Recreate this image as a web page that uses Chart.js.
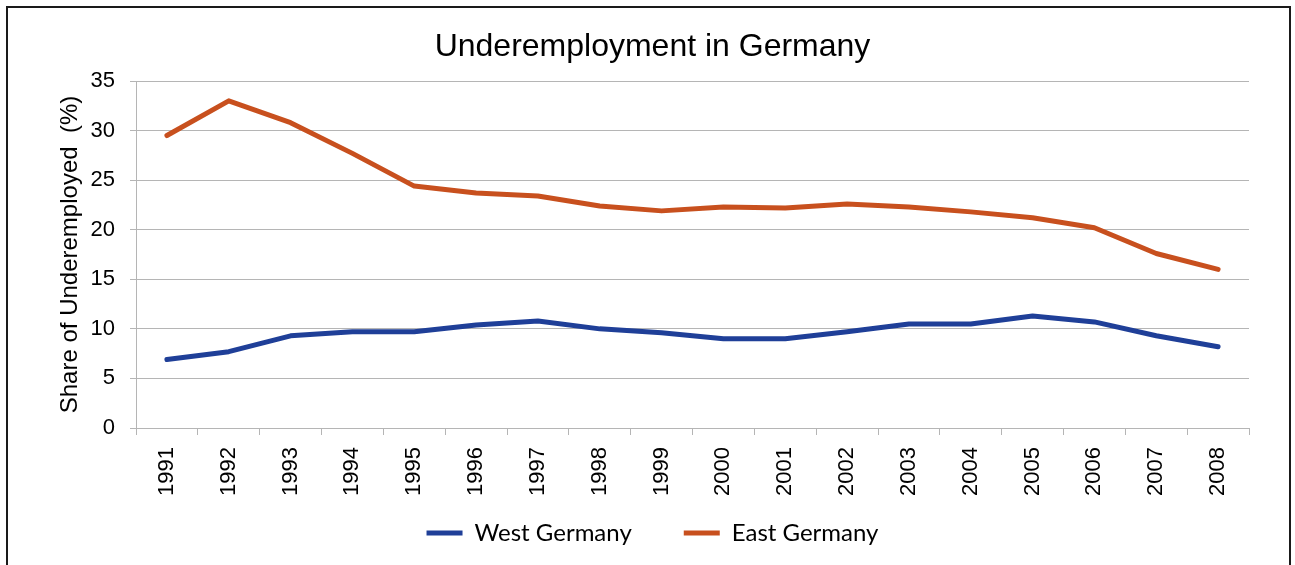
<!DOCTYPE html>
<html>
<head>
<meta charset="utf-8">
<script src="https://cdn.jsdelivr.net/npm/chart.js@4.4.1/dist/chart.umd.min.js"></script>
<style>
  html, body { margin: 0; padding: 0; background: #ffffff; }
  #wrap { position: relative; width: 1295px; height: 565px; overflow: hidden; }
  #frame { position: absolute; left: 6px; top: 6px; width: 1281px; height: 620px; border: 2px solid #1a1a1a; box-sizing: content-box; }
  #c { position: absolute; left: 0; top: 0; }
</style>
</head>
<body>
<div id="wrap">
  <div id="frame"></div>
  <canvas id="c" width="1295" height="565"></canvas>
</div>
<script>
const years = ["1991","1992","1993","1994","1995","1996","1997","1998","1999","2000","2001","2002","2003","2004","2005","2006","2007","2008"];
const westGermany = [6.9, 7.7, 9.3, 9.7, 9.7, 10.4, 10.8, 10.0, 9.6, 9.0, 9.0, 9.7, 10.5, 10.5, 11.3, 10.7, 9.3, 8.2];
const eastGermany = [29.5, 33.0, 30.8, 27.7, 24.4, 23.7, 23.4, 22.4, 21.9, 22.3, 22.2, 22.6, 22.3, 21.8, 21.2, 20.2, 17.6, 16.0];
const yTicks = { min: 0, max: 35, step: 5 };

const BLUE = '#1F3F98';
const ORANGE = '#C8501E';
const GRID = '#b5b5b5';

new Chart(document.getElementById('c'), {
  type: 'line',
  data: {
    labels: years,
    datasets: [
      { label: 'West Germany', data: westGermany, borderColor: BLUE, backgroundColor: BLUE,
        borderWidth: 5, pointRadius: 0, tension: 0, borderCapStyle: 'round', borderJoinStyle: 'round' },
      { label: 'East Germany', data: eastGermany, borderColor: ORANGE, backgroundColor: ORANGE,
        borderWidth: 5, pointRadius: 0, tension: 0, borderCapStyle: 'round', borderJoinStyle: 'round' }
    ]
  },
  options: {
    responsive: false,
    animation: false,
    devicePixelRatio: 1,
    layout: { padding: { left: 56, right: 46, top: 0, bottom: 10 } },
    plugins: {
      title: {
        display: true,
        text: 'Underemployment in Germany',
        color: '#000',
        font: { family: '"Liberation Sans", Arial, sans-serif', size: 32, weight: 'normal', lineHeight: 1.2 },
        padding: { top: 28, bottom: 14.6 }
      },
      legend: {
        display: true,
        position: 'bottom',
        labels: {
          usePointStyle: true,
          pointStyle: 'line',
          pointStyleWidth: 36,
          color: '#000',
          padding: 52,
          font: { family: 'Lato, "Noto Sans", sans-serif', size: 24 }
        }
      },
      tooltip: { enabled: false }
    },
    scales: {
      x: {
        type: 'category',
        offset: true,
        grid: { offset: true, drawOnChartArea: false, drawTicks: true, tickLength: 7, color: GRID, lineWidth: 1 },
        border: { display: true, color: GRID, width: 1 },
        ticks: {
          minRotation: 90, maxRotation: 90, autoSkip: false, padding: 12,
          color: '#000',
          font: { family: '"Liberation Sans", Arial, sans-serif', size: 22 }
        },
        afterFit: (s) => { s.height = 41; s._computeLabelArea = () => null; }
      },
      y: {
        min: yTicks.min, max: yTicks.max,
        ticks: {
          stepSize: yTicks.step, padding: 15, color: '#000',
          font: { family: '"Liberation Sans", Arial, sans-serif', size: 22 }
        },
        grid: { color: GRID, lineWidth: 1, drawTicks: true, tickLength: 6 },
        border: { display: true, color: GRID, width: 1 },
        title: {
          display: true,
          text: 'Share of Underemployed  (%)',
          color: '#000',
          padding: { top: 0, bottom: 0 },
          font: { family: '"Liberation Sans", Arial, sans-serif', size: 24, lineHeight: 1.2 }
        },
        afterFit: (s) => { s.width = 80; }
      }
    }
  }
});
</script>
</body>
</html>
